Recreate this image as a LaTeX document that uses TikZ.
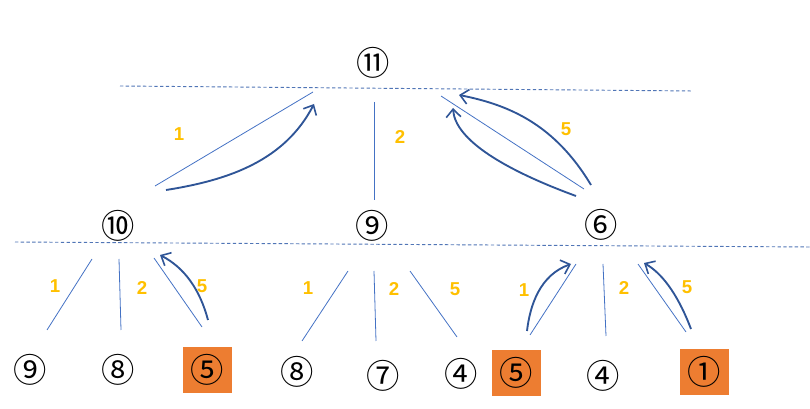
\documentclass[tikz,border=0pt]{standalone}
\usepackage{fontspec}
\setmainfont{Liberation Sans}
\newfontfamily\cjk{Noto Sans CJK SC}
\usetikzlibrary{arrows.meta}
\definecolor{lineblue}{HTML}{4472C4}
\definecolor{arrowblue}{HTML}{2F5597}
\definecolor{labelgold}{HTML}{FFC000}
\definecolor{boxorange}{HTML}{ED7D31}
\tikzset{
  circnum/.style={font=\cjk\fontsize{25}{25}\selectfont, inner sep=0pt},
  orangebox/.style={fill=boxorange, minimum width=36.75pt, minimum height=34pt, inner sep=0pt, font=\cjk\fontsize{25}{25}\selectfont},
  edgelbl/.style={text=labelgold, font=\fontsize{14}{14}\selectfont\bfseries, inner sep=0pt},
  thinline/.style={draw=lineblue, line width=0.6pt},
  levelline/.style={draw=lineblue!80!gray, line width=0.7pt, dash pattern=on 2.5pt off 1.8pt},
  curvearrow/.style={draw=arrowblue, line width=1.4pt, -{Straight Barb[length=6pt,width=11pt,line width=1.2pt]}},
}
\begin{document}
\begin{tikzpicture}[x=0.75pt,y=-0.75pt]
\useasboundingbox (0,0) rectangle (810,409);
% level lines
\coordinate (d1a) at (120,86); \coordinate (d1b) at (693,91);
\coordinate (d2a) at (15,242); \coordinate (d2b) at (810,247);
\draw[levelline] (d1a) -- (d1b);
\draw[levelline] (d2a) -- (d2b);
% nodes
\node[circnum] (n11) at (373,63) {⑪};
\node[circnum] (n10) at (118,226) {⑩};
\node[circnum] (n9) at (372,226) {⑨};
\node[circnum] (n6) at (601,225) {⑥};
\node[circnum] (b9) at (30,370) {⑨};
\node[circnum] (b8) at (118,370) {⑧};
\node[orangebox] (b5) at (207,370) {⑤};
\node[circnum] (c8) at (297,372) {⑧};
\node[circnum] (c7) at (383,376) {⑦};
\node[circnum] (c4) at (461,374) {④};
\node[orangebox] (c5) at (516,373) {⑤};
\node[circnum] (e4) at (603,376) {④};
\node[orangebox] (e1) at (704,372) {①};
% top-level lines
\coordinate (t1a) at (155,186); \coordinate (t1b) at (313,92);
\coordinate (t2a) at (374,102); \coordinate (t2b) at (374,200);
\coordinate (t5a) at (441,96); \coordinate (t5b) at (584,189);
\draw[thinline] (t1a) -- (t1b);
\draw[thinline] (t2a) -- (t2b);
\draw[thinline] (t5a) -- (t5b);
\node[edgelbl] (lt1) at (179,134) {1};
\node[edgelbl] (lt2) at (400,137) {2};
\node[edgelbl] (lt5) at (566,129) {5};
\coordinate (a1s) at (166,190); \coordinate (a1e) at (314,104);
\draw[curvearrow] (a1s) .. controls (230,180) and (285,160) .. (a1e);
\coordinate (a2s) at (576,196); \coordinate (a2e) at (453,108);
\draw[curvearrow] (a2s) .. controls (505,170) and (455,140) .. (a2e);
\coordinate (a3s) at (591,185); \coordinate (a3e) at (459,95);
\draw[curvearrow] (a3s) .. controls (555,125) and (510,105) .. (a3e);
% group 1
\coordinate (g1a) at (92,259); \coordinate (g1b) at (47,330);
\coordinate (g2a) at (119,259); \coordinate (g2b) at (121,330);
\coordinate (g5a) at (154,258); \coordinate (g5b) at (202,327);
\draw[thinline] (g1a) -- (g1b);
\draw[thinline] (g2a) -- (g2b);
\draw[thinline] (g5a) -- (g5b);
\node[edgelbl] (lg1) at (55,286) {1};
\node[edgelbl] (lg2) at (142,288) {2};
\node[edgelbl] (lg5) at (202,286) {5};
\coordinate (ga5s) at (208,320); \coordinate (ga5e) at (160,255);
\draw[curvearrow] (ga5s) .. controls (200,290) and (185,268) .. (ga5e);
% group 2
\coordinate (h1a) at (348,271); \coordinate (h1b) at (302,341);
\coordinate (h2a) at (374,271); \coordinate (h2b) at (376,341);
\coordinate (h5a) at (410,271); \coordinate (h5b) at (457,337);
\draw[thinline] (h1a) -- (h1b);
\draw[thinline] (h2a) -- (h2b);
\draw[thinline] (h5a) -- (h5b);
\node[edgelbl] (lh1) at (308,288) {1};
\node[edgelbl] (lh2) at (394,289) {2};
\node[edgelbl] (lh5) at (455,289) {5};
% group 3
\coordinate (k1a) at (576,264); \coordinate (k1b) at (530,335);
\coordinate (k2a) at (603,264); \coordinate (k2b) at (606,336);
\coordinate (k5a) at (638,264); \coordinate (k5b) at (686,332);
\draw[thinline] (k1a) -- (k1b);
\draw[thinline] (k2a) -- (k2b);
\draw[thinline] (k5a) -- (k5b);
\node[edgelbl] (lk1) at (524,290) {1};
\node[edgelbl] (lk2) at (624,288) {2};
\node[edgelbl] (lk5) at (687,287) {5};
\coordinate (ka1s) at (527,331); \coordinate (ka1e) at (571,264);
\draw[curvearrow] (ka1s) .. controls (530,305) and (540,275) .. (ka1e);
\coordinate (ka5s) at (691,329); \coordinate (ka5e) at (644,263);
\draw[curvearrow] (ka5s) .. controls (680,300) and (665,275) .. (ka5e);
\end{tikzpicture}
\end{document}
